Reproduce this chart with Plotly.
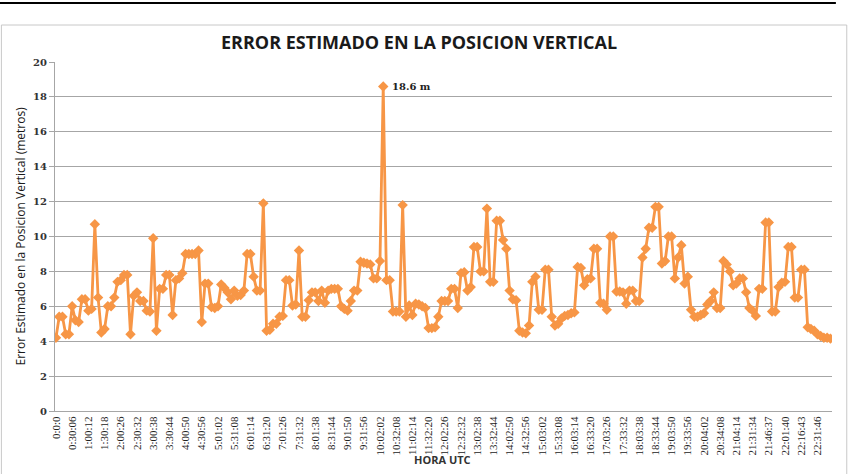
import plotly.graph_objects as go

error_m = [
    4.2, 5.4, 5.4, 4.4, 4.4, 6.0, 5.2, 5.1, 6.4, 6.4,
    5.75, 5.85, 10.7, 6.5, 4.5, 4.7, 6.0, 6.0, 6.5, 7.4,
    7.5, 7.8, 7.8, 4.4, 6.6, 6.8, 6.3, 6.3, 5.75, 5.7,
    9.9, 4.6, 7.0, 7.0, 7.8, 7.8, 5.5, 7.5, 7.6, 7.9,
    9.0, 9.0, 9.0, 9.0, 9.2, 5.1, 7.3, 7.3, 5.95, 5.9,
    6.0, 7.25, 7.05, 6.8, 6.4, 6.9, 6.6, 6.65, 6.9, 9.0,
    9.0, 7.7, 6.9, 6.9, 11.9, 4.6, 4.65, 5.0, 5.0, 5.4,
    5.45, 7.5, 7.5, 6.05, 6.1, 9.2, 5.4, 5.4, 6.35, 6.8,
    6.8, 6.3, 6.9, 6.2, 6.9, 7.0, 7.0, 7.0, 6.0, 5.85,
    5.75, 6.3, 6.9, 6.9, 8.55, 8.5, 8.45, 8.4, 7.6, 7.6,
    8.6, 18.6, 7.5, 7.5, 5.7, 5.7, 5.7, 11.8, 5.4, 6.05,
    5.5, 6.15, 6.1, 6.0, 5.9, 4.75, 4.75, 4.8, 5.4, 6.3,
    6.3, 6.3, 7.0, 7.0, 5.9, 7.9, 7.95, 6.9, 7.1, 9.4,
    9.4, 8.0, 8.0, 11.6, 7.4, 7.4, 10.9, 10.9, 9.8, 9.3,
    6.9, 6.4, 6.35, 4.6, 4.5, 4.45, 4.9, 7.4, 7.7, 5.8,
    5.8, 8.1, 8.1, 5.4, 4.9, 5.0, 5.3, 5.45, 5.5, 5.6,
    5.65, 8.25, 8.2, 7.2, 7.55, 7.6, 9.3, 9.3, 6.2, 6.15,
    5.8, 10.0, 10.0, 6.85, 6.85, 6.8, 6.15, 6.9, 6.9, 6.3,
    6.3, 8.8, 9.3, 10.5, 10.5, 11.7, 11.7, 8.45, 8.6, 10.0,
    10.0, 7.6, 8.8, 9.5, 7.3, 7.7, 5.8, 5.4, 5.4, 5.5,
    5.6, 6.1, 6.3, 6.8, 5.9, 5.9, 8.6, 8.4, 8.0, 7.2,
    7.3, 7.6, 7.6, 6.8, 5.9, 5.75, 5.45, 7.0, 7.0, 10.8,
    10.8, 5.7, 5.7, 7.1, 7.35, 7.4, 9.4, 9.4, 6.5, 6.5,
    8.1, 8.1, 4.8, 4.7, 4.6, 4.4, 4.3, 4.2, 4.2, 4.15,
]

tick_labels = [
    "0:0:0", "0:30:06", "1:00:12", "1:30:18", "2:00:26", "2:30:32", "3:00:38", "3:30:44",
    "4:00:50", "4:30:56", "5:01:02", "5:31:08", "6:01:14", "6:31:20", "7:01:26", "7:31:32",
    "8:01:38", "8:31:44", "9:01:50", "9:31:56", "10:02:02", "10:32:08", "11:02:14", "11:32:20",
    "12:02:26", "12:32:32", "13:02:38", "13:32:44", "14:02:50", "14:32:56", "15:03:02", "15:33:08",
    "16:03:14", "16:33:20", "17:03:26", "17:33:32", "18:03:38", "18:33:44", "19:03:50", "19:33:56",
    "20:04:02", "20:34:08", "21:04:14", "21:31:34", "21:46:37", "22:01:40", "22:16:43", "22:31:46",
]
label_step = 5
y_ticks = [0, 2, 4, 6, 8, 10, 12, 14, 16, 18, 20]

x_idx = list(range(len(error_m)))
tick_pos = [i * label_step for i in range(len(tick_labels))]
peak_i = max(x_idx, key=lambda i: error_m[i])

ORANGE = "#F79646"
GRID = "#A6A6A6"

fig = go.Figure()
fig.add_trace(go.Scatter(
    x=x_idx, y=error_m, mode="lines+markers",
    line=dict(color=ORANGE, width=2.8),
    marker=dict(symbol="diamond", size=8, color=ORANGE),
    showlegend=False, hoverinfo="y",
))

fig.update_layout(
    width=850, height=474,
    margin=dict(l=55, r=18, t=62, b=63),
    paper_bgcolor="white", plot_bgcolor="white",
    xaxis=dict(
        range=[-0.3, len(error_m) - 0.5],
        tickmode="array", tickvals=tick_pos, ticktext=tick_labels,
        tickangle=-90, showgrid=False, zeroline=False,
        showline=True, linecolor=GRID, linewidth=1,
        tickfont=dict(family="Liberation Serif", size=11, color="#222222"),
        ticks="", ticklen=0,
    ),
    yaxis=dict(
        range=[0, 20], tickmode="array", tickvals=y_ticks,
        ticktext=[f"<b>{v}</b>" for v in y_ticks],
        showgrid=True, gridcolor=GRID, gridwidth=1, zeroline=False,
        showline=True, linecolor=GRID, linewidth=1,
        ticks="outside", ticklen=5, tickcolor=GRID,
        tickfont=dict(family="DejaVu Serif", size=10, color="#333333"),
    ),
)

fig.add_annotation(
    x=peak_i, y=error_m[peak_i], text=f"<b>{error_m[peak_i]} m</b>",
    showarrow=False, xanchor="left", yanchor="middle", xshift=7,
    font=dict(family="DejaVu Serif", size=10, color="#222222"),
)
fig.add_annotation(
    xref="paper", yref="paper", x=0.468, y=1.057,
    text="<b>ERROR ESTIMADO EN LA POSICION VERTICAL</b>", showarrow=False,
    xanchor="center", yanchor="middle",
    font=dict(family="Open Sans", size=18, color="#1a1a1a"),
)
fig.add_annotation(
    xref="paper", yref="paper", x=-0.045, y=0.5,
    text="Error Estimado en la Posicion Vertical (metros)", textangle=-90,
    showarrow=False, xanchor="center", yanchor="middle",
    font=dict(family="Open Sans", size=12, color="#1a1a1a"),
)
fig.add_annotation(
    xref="paper", yref="paper", x=0.499, y=-0.14,
    text="<b>HORA UTC</b>", showarrow=False,
    xanchor="center", yanchor="middle",
    font=dict(family="Open Sans", size=11, color="#333333"),
)

# chart border and document rule above it
fig.add_shape(type="rect", xref="paper", yref="paper",
              x0=-0.069, x1=1.019, y0=-0.2, y1=1.106,
              line=dict(color="#C8C8C8", width=1), layer="below")
fig.add_shape(type="line", xref="paper", yref="paper",
              x0=-0.071, x1=1.005, y0=1.169, y1=1.169,
              line=dict(color="#000000", width=2))

fig.write_html("out.html")
